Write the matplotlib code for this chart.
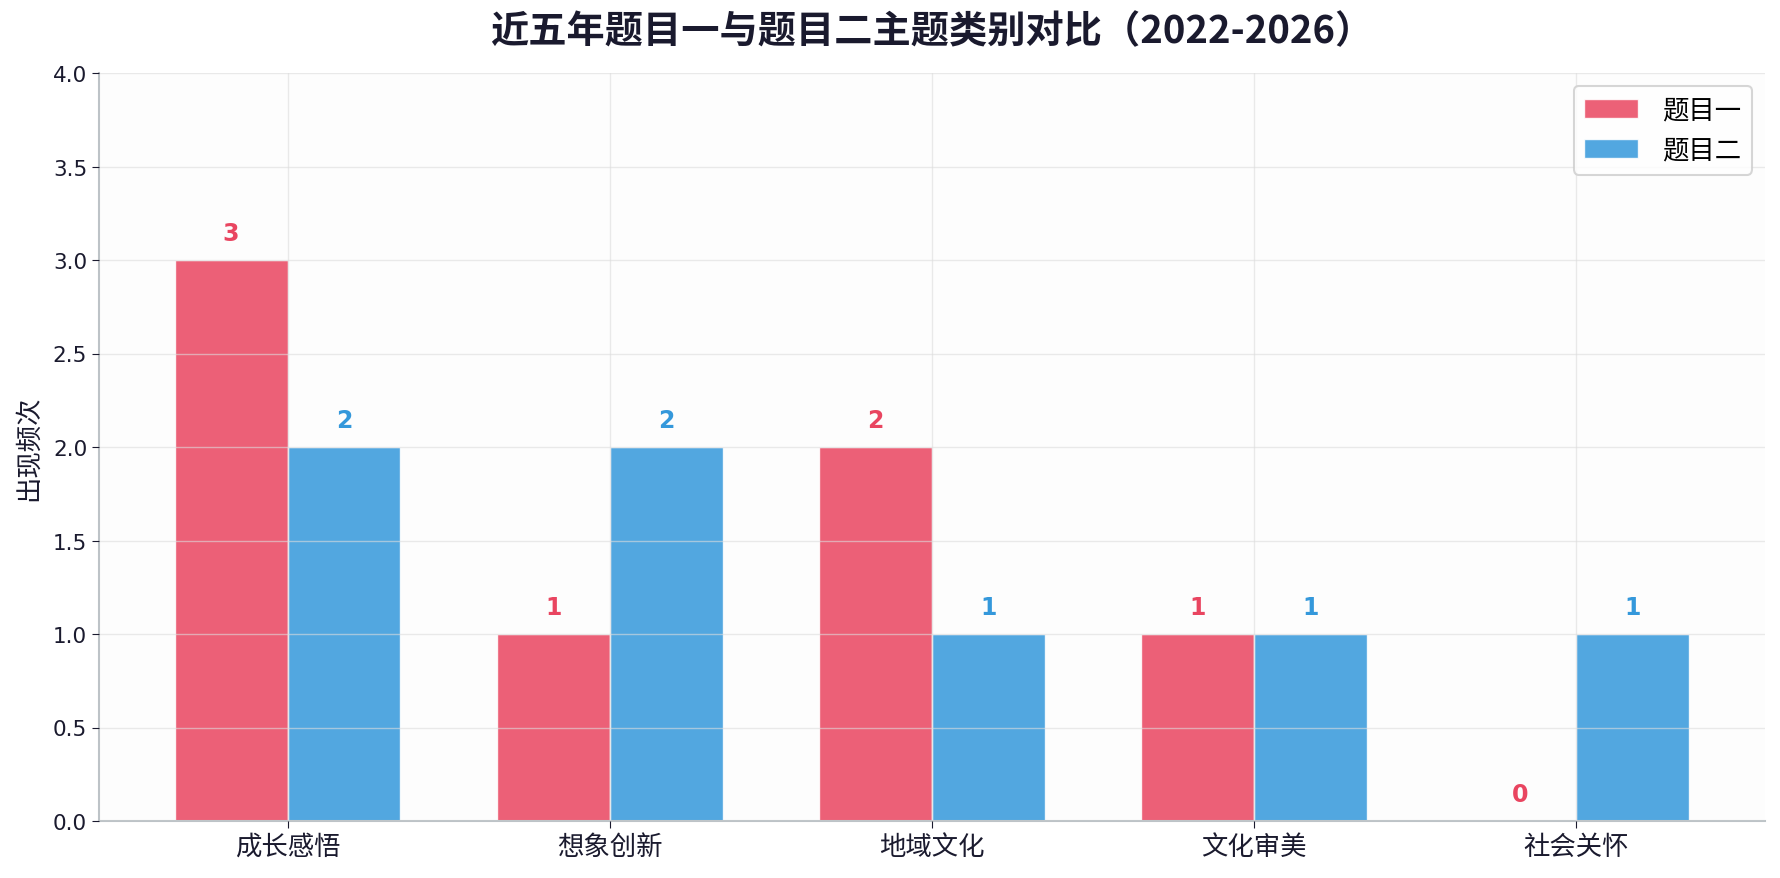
import numpy as np
import matplotlib
matplotlib.use('Agg')
import matplotlib.pyplot as plt

plt.rcParams['font.family'] = ['Noto Sans CJK SC', 'DejaVu Sans']
plt.rcParams['axes.unicode_minus'] = False

categories = ['成长感悟', '想象创新', '地域文化', '文化审美', '社会关怀']
topic1 = [3, 1, 2, 1, 0]
topic2 = [2, 2, 1, 1, 1]
series_names = ['题目一', '题目二']

red = '#E94560'
blue = '#3498DB'
ink = '#1A1A2E'

fig, ax = plt.subplots(figsize=(17.8, 8.79), dpi=100)
fig.patch.set_facecolor('white')
ax.set_facecolor('#FDFDFD')

x = np.arange(len(categories))
w = 0.35
b1 = ax.bar(x - w / 2, topic1, w, color=red, alpha=0.85, edgecolor='white',
            linewidth=1, label=series_names[0])
b2 = ax.bar(x + w / 2, topic2, w, color=blue, alpha=0.85, edgecolor='white',
            linewidth=1, label=series_names[1])

# value labels on top of each bar
for bars, col in [(b1, red), (b2, blue)]:
    for rect in bars:
        h = rect.get_height()
        ax.text(rect.get_x() + rect.get_width() / 2, h + 0.08, f'{int(h)}',
                ha='center', va='bottom', fontsize=17, fontweight='bold',
                color=col, family='DejaVu Sans')

ax.set_ylim(0, 4)
ax.set_xticks(x)
ax.set_xticklabels(categories, fontsize=19, color=ink)
ax.tick_params(axis='y', labelsize=15.5, colors=ink, length=5)
ax.tick_params(axis='x', colors=ink, length=5)
for lbl in ax.get_yticklabels():
    lbl.set_family('DejaVu Sans')
ax.set_ylabel('出现频次', fontsize=19, color=ink, labelpad=8)
ax.set_title('近五年题目一与题目二主题类别对比（2022-2026）', fontsize=27.5,
             fontweight='bold', color=ink, pad=22)

ax.grid(True, color='#DDDDDD', alpha=0.6, linewidth=1)
ax.set_axisbelow(False)
for s in ['top', 'right']:
    ax.spines[s].set_visible(False)
for s in ['left', 'bottom']:
    ax.spines[s].set_color('#BDC3C7')
    ax.spines[s].set_linewidth(1.5)

leg = ax.legend(loc='upper right', fontsize=19, frameon=True, fancybox=True,
                handlelength=2.05, handletextpad=0.9)
leg.get_frame().set_edgecolor('#CCCCCC')
leg.get_frame().set_linewidth(1.5)

fig.subplots_adjust(left=99 / 1780, right=1765 / 1780, top=1 - 74 / 879,
                    bottom=1 - 822 / 879)
fig.savefig('out.png', dpi=100)
